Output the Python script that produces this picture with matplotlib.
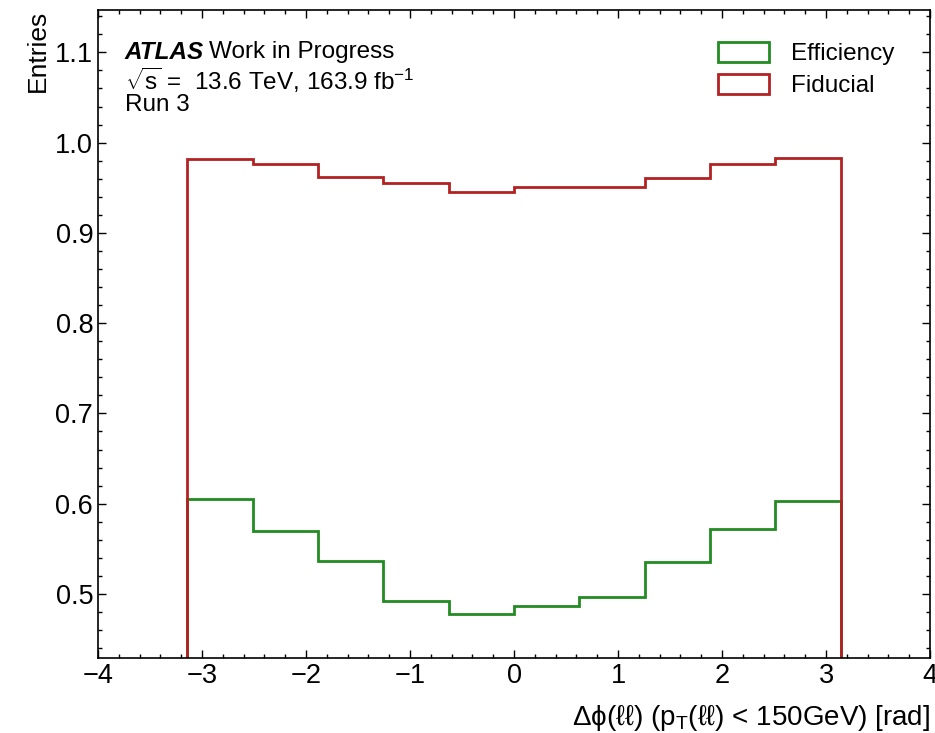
import matplotlib
matplotlib.use('Agg')
import matplotlib.pyplot as plt
import numpy as np
from matplotlib.ticker import MultipleLocator

plt.rcParams['font.family'] = ['Liberation Sans', 'DejaVu Sans']
plt.rcParams['mathtext.fontset'] = 'custom'
plt.rcParams['mathtext.rm'] = 'Liberation Sans'
plt.rcParams['mathtext.it'] = 'Liberation Sans:italic'
plt.rcParams['mathtext.bf'] = 'Liberation Sans:bold'

# bin edges: 10 bins of pi/5 across [-pi, pi]
bin_edges = [-3.1416, -2.5133, -1.8850, -1.2566, -0.6283, 0.0,
             0.6283, 1.2566, 1.8850, 2.5133, 3.1416]
efficiency = [0.605, 0.570, 0.537, 0.492, 0.478, 0.487, 0.497, 0.535, 0.572, 0.603]
fiducial = [0.982, 0.976, 0.962, 0.955, 0.945, 0.951, 0.951, 0.961, 0.976, 0.983]

centers = 0.5 * (np.array(bin_edges[:-1]) + np.array(bin_edges[1:]))

fig = plt.figure(figsize=(9.35, 7.33), dpi=100)
ax = fig.add_axes([0.1048, 0.1023, 0.8899, 0.8841])

ax.hist(centers, bins=bin_edges, weights=efficiency, histtype='step',
        color='#228B22', linewidth=2, label='Efficiency')
ax.hist(centers, bins=bin_edges, weights=fiducial, histtype='step',
        color='#B22222', linewidth=2, label='Fiducial')

ax.set_xlim(-4, 4)
ax.set_ylim(0.429, 1.147)
ax.xaxis.set_major_locator(MultipleLocator(1))
ax.xaxis.set_minor_locator(MultipleLocator(0.2))
ax.yaxis.set_major_locator(MultipleLocator(0.1))
ax.yaxis.set_minor_locator(MultipleLocator(0.02))
ax.tick_params(which='both', direction='in', top=True, right=True, labelsize=19.5)
ax.tick_params(which='major', length=6, width=1)
ax.tick_params(which='minor', length=3, width=1)
for s in ax.spines.values():
    s.set_linewidth(1.2)

ax.set_xlabel('Δϕ(ℓℓ) (p$_{\\mathrm{T}}$(ℓℓ) < 150GeV) [rad]', fontsize=20,
              loc='right', labelpad=10, family=['Liberation Sans', 'DejaVu Sans'])
ax.set_ylabel('Entries', fontsize=19, loc='top')

# ATLAS label block
ax.text(0.032, 0.952, 'ATLAS', transform=ax.transAxes, fontsize=17.5, va='top',
        fontweight='bold', fontstyle='italic')
ax.text(0.134, 0.952, 'Work in Progress', transform=ax.transAxes, fontsize=17.5, va='top')
ax.text(0.032, 0.914, r'$\sqrt{\mathrm{s}}$ =  13.6 TeV, 163.9 fb$^{-1}$',
        transform=ax.transAxes, fontsize=17.5, va='top')
ax.text(0.032, 0.870, 'Run 3', transform=ax.transAxes, fontsize=17.5, va='top')

ax.legend(loc='upper right', frameon=False, fontsize=17.5,
          bbox_to_anchor=(0.983, 0.985), handlelength=2.1, handleheight=0.9,
          labelspacing=0.35, handletextpad=0.9)

fig.savefig('out.png', dpi=100)
